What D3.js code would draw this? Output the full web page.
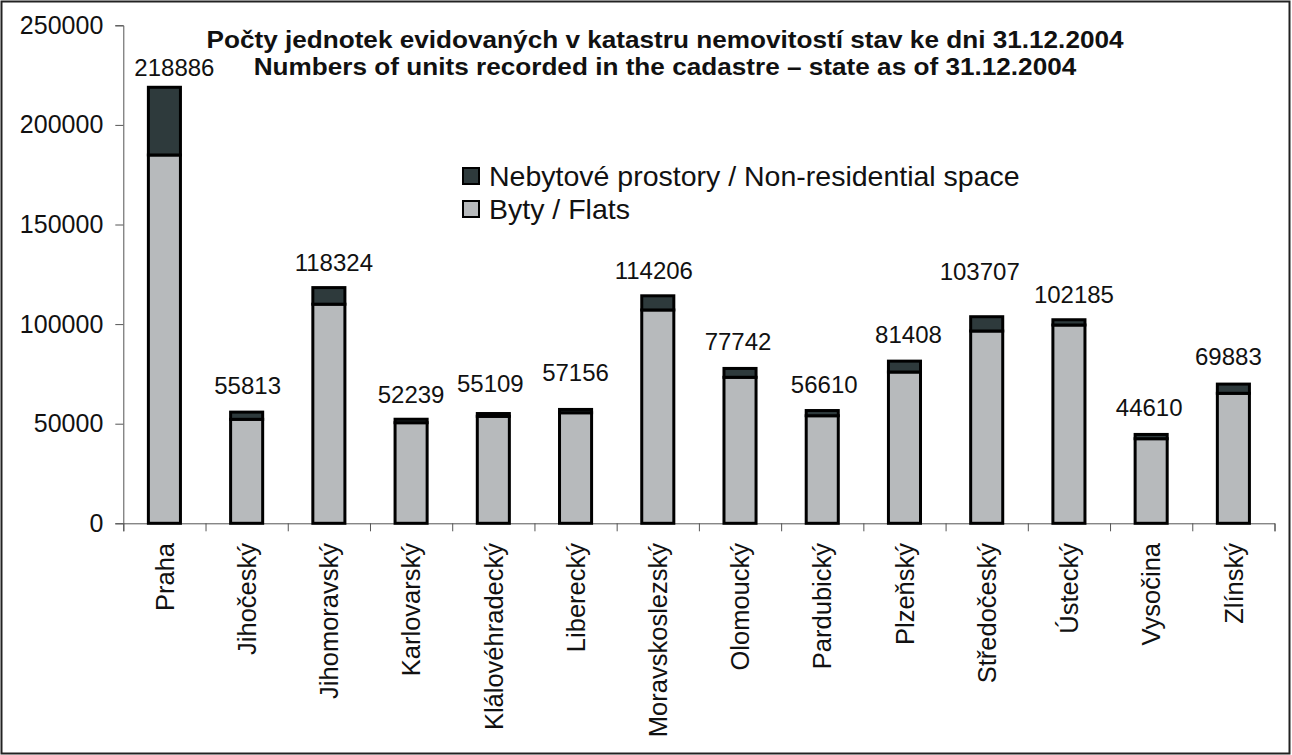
<!DOCTYPE html>
<html>
<head>
<meta charset="utf-8">
<script src="https://cdn.jsdelivr.net/npm/d3@7/dist/d3.min.js"></script>
<style>
  html, body { margin: 0; padding: 0; background: #fff; }
  svg { display: block; font-family: "Liberation Sans", Arial, sans-serif; }
</style>
</head>
<body>
<svg id="chart" width="1292" height="755"></svg>
<script>
// Regions of the Czech Republic
const regions = ["Praha", "Jihočeský", "Jihomoravský", "Karlovarský", "Klálovéhradecký",
  "Liberecký", "Moravskoslezský", "Olomoucký", "Pardubický", "Plzeňský",
  "Středočeský", "Ústecký", "Vysočina", "Zlínský"];

// Flats (Byty)
const flats = [184900, 52200, 110000, 50500, 53700, 55500, 107100, 73300, 54000, 75950,
  96540, 99550, 42470, 65260];

// Non-residential space (Nebytové prostory)
const nonResidential = [33986, 3613, 8324, 1739, 1409, 1656, 7106, 4442, 2610, 5458,
  7167, 2635, 2140, 4623];

const yTicks = [0, 50000, 100000, 150000, 200000, 250000];

const titleLines = [
  "Počty jednotek evidovaných v katastru nemovitostí stav ke dni 31.12.2004",
  "Numbers of units recorded in the cadastre – state as of 31.12.2004"
];

const seriesNames = ["Nebytové prostory / Non-residential space", "Byty / Flats"];

// hand-placed total labels: horizontal nudge and gap above the bar (px)
const labelDx = [10, 1, 5, 0, -3, 0, -4, -2, 2, 4, -7, 5, -2, -5];
const labelGap = [11, 18, 17, 16, 22, 28, 17, 18, 18, 18, 37, 17, 18, 19];

const colFlats = "#b7babc";
const colNonRes = "#2e3a3c";

const svg = d3.select("#chart");
const W = 1292, H = 755;

// outer frame
svg.append("rect").attr("x", 1.5).attr("y", 1.5).attr("width", W - 4).attr("height", H - 3)
  .attr("fill", "#fff").attr("stroke", "#222").attr("stroke-width", 2);

const plot = { left: 123.3, right: 1274.5, top: 25.3, bottom: 523.3 };

const x = d3.scaleBand().domain(regions)
  .range([plot.left, plot.right]).paddingInner(0.61).paddingOuter(0.305);
const y = d3.scaleLinear().domain([0, 250000]).range([plot.bottom, plot.top]);

const rows = regions.map((r, i) => ({ region: r, flats: flats[i], nonres: nonResidential[i], i }));
const stack = d3.stack().keys(["flats", "nonres"])(rows);

// axes
const yAxis = d3.axisLeft(y).tickValues(yTicks).tickSize(8).tickPadding(12).tickFormat(d3.format("d"));
const gy = svg.append("g").attr("transform", `translate(${plot.left},0)`).call(yAxis);
gy.attr("font-family", null);
gy.selectAll("text").attr("font-size", 25).attr("fill", "#111");
gy.selectAll("line, path").attr("stroke", "#555");

const xb = d3.scaleLinear().domain([0, regions.length]).range([plot.left, plot.right]);
const xAxis = d3.axisBottom(xb).tickValues(d3.range(regions.length + 1))
  .tickSize(8).tickFormat("");
const gx = svg.append("g").attr("transform", `translate(0,${plot.bottom})`).call(xAxis);
gx.selectAll("line, path").attr("stroke", "#555");

// category labels
svg.append("g").selectAll("text").data(regions).join("text")
  .attr("transform", d => `translate(${x(d) + x.bandwidth() / 2},543) rotate(-90)`)
  .attr("text-anchor", "end").attr("dy", "0.36em")
  .attr("font-size", 25.5).attr("fill", "#111").text(d => d);

// stacked bars
const colors = { flats: colFlats, nonres: colNonRes };
svg.append("g").selectAll("g").data(stack).join("g")
  .attr("fill", d => colors[d.key])
  .selectAll("rect").data(d => d).join("rect")
  .attr("x", d => x(d.data.region))
  .attr("width", x.bandwidth())
  .attr("y", d => y(d[1]))
  .attr("height", d => y(d[0]) - y(d[1]))
  .attr("stroke", "#000").attr("stroke-width", 3);

// total labels
svg.append("g").selectAll("text").data(rows).join("text")
  .attr("x", d => x(d.region) + x.bandwidth() / 2 + labelDx[d.i])
  .attr("y", d => y(d.flats + d.nonres) - labelGap[d.i])
  .attr("text-anchor", "middle").attr("font-size", 24).attr("fill", "#111")
  .text(d => d.flats + d.nonres);

// title, drawn slightly wide
const titleX = 665;
svg.append("g").attr("transform", `translate(${titleX},0) scale(1.09,1)`)
  .selectAll("text").data(titleLines).join("text")
  .attr("x", 0).attr("y", (d, i) => 48.5 + i * 27)
  .attr("text-anchor", "middle").attr("font-weight", "bold").attr("font-size", 24)
  .attr("fill", "#111").text(d => d);

// legend
const legend = svg.append("g").attr("transform", "translate(462,167)");
const legendItems = [{ name: seriesNames[0], color: colNonRes }, { name: seriesNames[1], color: colFlats }];
const li = legend.selectAll("g").data(legendItems).join("g")
  .attr("transform", (d, i) => `translate(0,${i * 33})`);
li.append("rect").attr("x", 1).attr("y", 1).attr("width", 16).attr("height", 16)
  .attr("fill", d => d.color).attr("stroke", "#000").attr("stroke-width", 2);
li.append("text").attr("x", 27).attr("y", 9).attr("dy", "0.36em")
  .attr("font-size", 28.5).attr("fill", "#111").text(d => d.name);
</script>
</body>
</html>
